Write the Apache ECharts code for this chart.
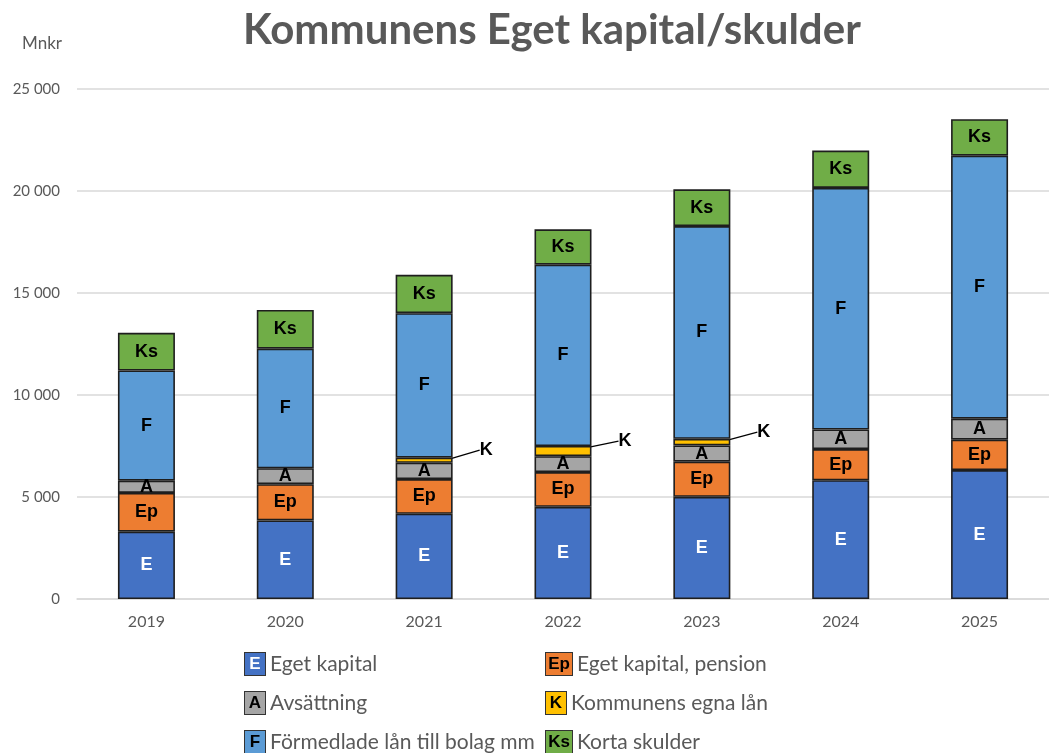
<!DOCTYPE html>
<html>
<head>
<meta charset="utf-8">
<script src="https://cdn.jsdelivr.net/npm/echarts@6/dist/echarts.min.js"></script>
<style>
  html, body { margin: 0; padding: 0; background: #fff; }
  #chart { width: 1049px; height: 753px; }
</style>
</head>
<body>
<div id="chart"></div>
<script>
// Mnkr per year
var years = ['2019', '2020', '2021', '2022', '2023', '2024', '2025'];
var egetKapital = [3300, 3850, 4180, 4520, 5010, 5820, 6320];
var egetKapitalPension = [1900, 1780, 1700, 1700, 1720, 1530, 1490];
var avsattning = [600, 780, 800, 780, 800, 960, 1030];
var egnaLan = [0, 0, 250, 500, 320, 0, 0];
var formedladeLan = [5400, 5860, 7080, 8890, 10430, 11840, 12890];
var kortaSkulder = [1850, 1900, 1880, 1730, 1800, 1830, 1790];

var yTicks = [0, 5000, 10000, 15000, 20000, 25000];

var FONT = 'Lato, "Open Sans", sans-serif';
var BAR_FONT = '"Liberation Sans", Arial, sans-serif';
var GRAY = '#595959';

function seg(name, data, color, code, textColor) {
    return {
        name: name,
        type: 'bar',
        stack: 'total',
        barWidth: 57,
        data: data.map(function (v) { return v === 0 ? null : v; }),
        itemStyle: { color: color, borderColor: '#1e1e1e', borderWidth: 1.6 },
        label: {
            show: true,
            position: 'inside',
            formatter: code,
            color: textColor,
            fontFamily: BAR_FONT,
            fontWeight: 'bold',
            fontSize: 18
        },
        emphasis: { disabled: true }
    };
}

var series = [
    seg('Eget kapital', egetKapital, '#4472C4', 'E', '#ffffff'),
    seg('Eget kapital, pension', egetKapitalPension, '#ED7D31', 'Ep', '#000'),
    seg('Avsättning', avsattning, '#A5A5A5', 'A', '#000'),
    seg('Kommunens egna lån', egnaLan, '#FFC000', 'K', '#000'),
    seg('Förmedlade lån till bolag mm', formedladeLan, '#5B9BD5', 'F', '#000'),
    seg('Korta skulder', kortaSkulder, '#70AD47', 'Ks', '#000')
];
// K sits outside the bar with a short leader line
series[3].label.position = 'right';
series[3].labelLayout = { dx: 22, dy: -10 };
series[3].labelLine = { show: true, lineStyle: { color: '#000', width: 1.2 } };

var codes = {
    'Eget kapital': ['E', '#4472C4', '#fff'],
    'Eget kapital, pension': ['Ep', '#ED7D31', '#000'],
    'Avsättning': ['A', '#A5A5A5', '#000'],
    'Kommunens egna lån': ['K', '#FFC000', '#000'],
    'Förmedlade lån till bolag mm': ['F', '#5B9BD5', '#000'],
    'Korta skulder': ['Ks', '#70AD47', '#000']
};

function legendRich() {
    var rich = { t: { color: GRAY, fontFamily: FONT, fontSize: 21, padding: [0, 0, 0, 5] } };
    Object.keys(codes).forEach(function (k, i) {
        var c = codes[k];
        rich['b' + i] = {
            backgroundColor: c[1],
            color: c[2],
            fontFamily: BAR_FONT,
            fontWeight: 'bold',
            fontSize: 17,
            borderColor: '#333',
            borderWidth: 1,
            padding: [3, 2, 2, 2],
            width: c[0].length > 1 ? 22 : 16,
            align: 'center'
        };
    });
    return rich;
}

function legendFormatter(name) {
    var i = Object.keys(codes).indexOf(name);
    return '{b' + i + '|' + codes[name][0] + '}{t|' + name + '}';
}

function legend(left, names) {
    return {
        orient: 'vertical',
        left: left,
        top: 652,
        height: 130,
        padding: 0,
        itemGap: 15,
        icon: 'none',
        itemWidth: 0,
        itemHeight: 24,
        selectedMode: false,
        data: names,
        formatter: legendFormatter,
        textStyle: { rich: legendRich() }
    };
}

var chart = echarts.init(document.getElementById('chart'));
chart.setOption({
    animation: false,
    backgroundColor: '#fff',
    title: {
        text: 'Kommunens Eget kapital/skulder',
        left: 243,
        top: 9,
        padding: 0,
        textStyle: { color: GRAY, fontFamily: FONT, fontWeight: 'bold', fontSize: 42 }
    },
    legend: [
        legend(240, ['Eget kapital', 'Avsättning', 'Förmedlade lån till bolag mm']),
        legend(541, ['Eget kapital, pension', 'Kommunens egna lån', 'Korta skulder'])
    ],
    grid: { left: 77, top: 89, width: 984, height: 510, containLabel: false },
    xAxis: {
        type: 'category',
        data: years,
        axisLine: { lineStyle: { color: '#d9d9d9', width: 1.5 } },
        axisTick: { show: false },
        axisLabel: { color: GRAY, fontFamily: FONT, fontSize: 16, margin: 15 }
    },
    yAxis: {
        type: 'value',
        name: 'Mnkr',
        nameLocation: 'end',
        nameGap: 37,
        nameTextStyle: { color: GRAY, fontFamily: FONT, fontSize: 17, align: 'left', padding: [0, 0, 0, -55] },
        min: yTicks[0],
        max: yTicks[yTicks.length - 1],
        interval: 5000,
        axisLine: { show: false },
        axisTick: { show: false },
        splitLine: { lineStyle: { color: '#d9d9d9', width: 1.5 } },
        axisLabel: {
            color: GRAY,
            fontFamily: FONT,
            fontSize: 15,
            margin: 17,
            formatter: function (v) { return v === 0 ? '0' : String(v).replace(/\B(?=(\d{3})+(?!\d))/g, ' '); }
        }
    },
    series: series
});
</script>
</body>
</html>
